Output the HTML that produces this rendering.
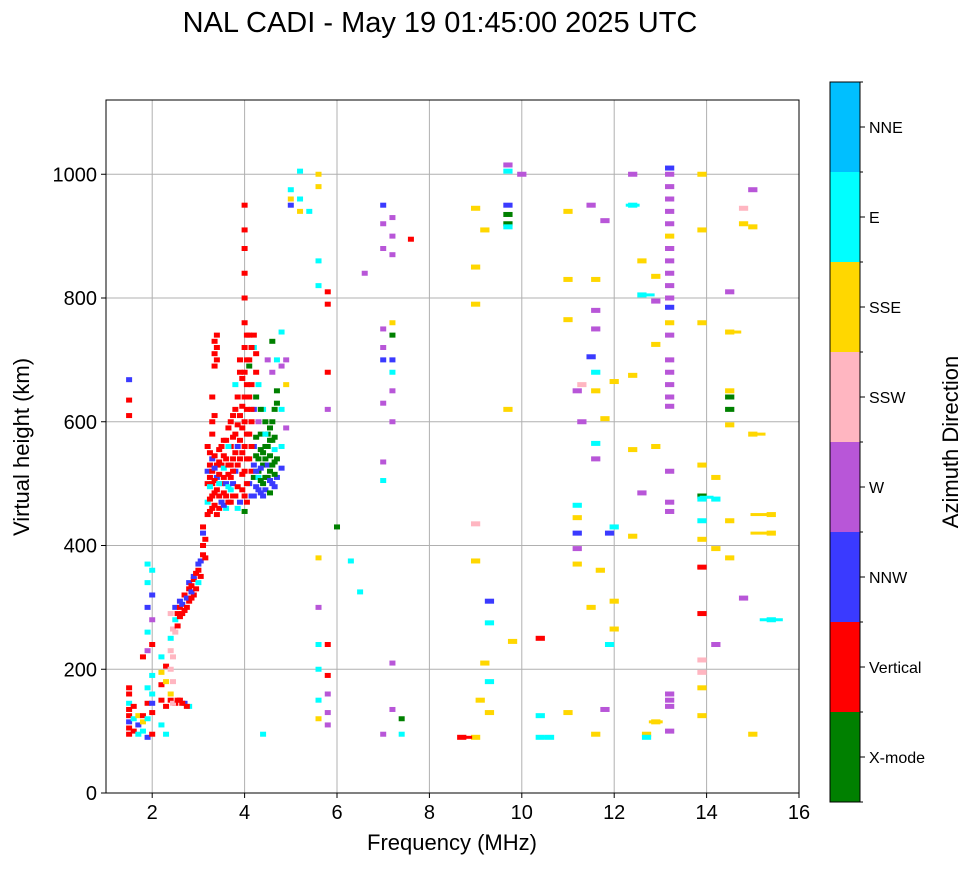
<!DOCTYPE html>
<html><head><meta charset="utf-8">
<style>
body{margin:0;background:#fff;}
svg text{font-family:"Liberation Sans",sans-serif;fill:#000;}
</style></head>
<body>
<svg id="chart" width="972" height="865" viewBox="0 0 972 865">
<text x="440" y="32" font-size="29" text-anchor="middle">NAL CADI - May 19 01:45:00 2025 UTC</text>
<g id="grid"></g>
<g id="marks"></g>
<rect x="106" y="100" width="693" height="693" fill="none" stroke="#000" stroke-width="1"/>
<g id="axes"></g>
<text x="452" y="850" font-size="22" text-anchor="middle">Frequency (MHz)</text>
<text transform="translate(29,447) rotate(-90)" font-size="22" text-anchor="middle">Virtual height (km)</text>
<g id="cbar"></g>
<text transform="translate(958,442) rotate(-90)" font-size="22" text-anchor="middle">Azimuth Direction</text>
</svg>
<script>
const dirNames = ["X-mode","Vertical","NNW","W","SSW","SSE","E","NNE"];
const dirColors = ["#008000","#ff0000","#3a3aff","#b856d8","#ffb6c1","#ffd700","#00ffff","#00bfff"];
const dirCodes = "grbpkycn";
const xTicks = [2,4,6,8,10,12,14,16];
const yTicks = [0,200,400,600,800,1000];
const freqs = [1.5,1.6,1.7,1.8,1.9,2.0,2.2,2.3,2.4,2.5,2.6,2.7,2.8,2.9,3.0,3.1,3.2,3.3,3.4,3.5,3.6,3.7,3.8,3.9,4.0,4.1,4.2,4.3,4.4,4.5,4.6,4.7,4.8,4.9,5.0,5.2,5.4,5.6,5.8,6.0,6.3,6.5,6.6,7.0,7.2,7.4,7.6,8.7,9.0,9.1,9.2,9.3,9.7,9.8,10.0,10.4,10.6,11.0,11.2,11.3,11.5,11.6,11.7,11.8,11.9,12.0,12.4,12.6,12.7,12.9,13.2,13.9,14.2,14.5,14.8,15.0,15.4,
3.25,3.35,3.45,3.55,3.65,3.75,3.85,3.95,4.05,4.15,4.25,4.35,4.45,4.55,4.65,2.45,2.55,2.65,2.75,2.85,2.95,3.05,3.15];
const heightsByFreq = [
[95,105,115,125,135,145,160,170,610,635,668],
[100,120,140],
[95,110,125],
[100,115,125,220],
[90,120,145,170,230,260,300,340,370],
[95,130,145,160,190,240,280,320,360],
[110,150,175,195,220],
[95,140,180,205],
[150,160,200,230,250,290],
[145,260,280,300],
[150,285,300,310],
[145,295,320],
[140,310,330,340],
[320,345,350],
[340,360,370],
[385,400,420,430],
[450,470,500,520,560],
[460,480,500,520,540,580,600,640],
[450,490,510,530,700,720,740],
[470,500,530,560],
[460,480,500,540,570],
[470,490,510,530,560,600],
[480,520,550,580,620,660],
[470,540,570,610,680,700],
[455,480,520,560,600,640,680,720,760,800,840,880,910,950],
[500,540,580,640,700,740,690],
[480,510,530,560,620,740,720],
[490,520,540,510,600,660],
[500,530,550,480,95,620],
[510,530,560,580,700],
[500,530,570,600,680,730],
[510,540,630,650,700],
[525,560,690,620,745],
[590,700,660],
[960,975,950],
[1005,940,960],
[940],
[1000,980,860,820,380,300,240,200,150,120],
[810,790,680,620,240,190,160,130,110],
[430],
[375],
[325],
[840],
[950,920,880,750,720,700,630,535,505,95],
[930,900,870,760,740,700,680,650,600,210,135],
[120,95],
[895],
[90],
[945,850,790,435,375,90],
[150],
[910,210],
[310,275,180,130],
[1015,1005,950,935,920,915,620],
[245],
[1000],
[250,125,90],
[90],
[940,830,765,130],
[650,465,445,420,395,370],
[600,660],
[950,705,300],
[830,780,750,680,650,565,540,95],
[360],
[925,605,135],
[420,240],
[665,310,265,430],
[1000,950,675,555,415],
[860,805,485],
[95,90],
[835,795,725,560,115],
[1010,1000,980,960,940,920,900,880,860,840,820,800,785,760,740,700,680,660,640,625,520,470,455,160,150,140,100],
[1000,910,760,530,480,475,440,410,365,290,215,195,170,125],
[510,475,395,240],
[810,745,650,640,620,595,440,380],
[945,920,315],
[975,915,580,95],
[450,420,280],
[455,475,495,510,530,550],
[465,485,505,525,545,610,690,710,730],
[460,480,500,515,535,555],
[465,485,510,525,545,570],
[470,495,515,530,560,590],
[480,500,520,540,575,610],
[460,495,530,560,595,640],
[490,515,550,590,625,670],
[470,500,540,580,620,660,700,740],
[480,520,560,600,620,660,720],
[495,520,545,575,640,680,710],
[485,505,525,555,580,620],
[490,510,540,560,580,600],
[485,505,520,545,570,590],
[495,515,535,555,575,620],
[145,180,220,265],
[150,270,290],
[145,290,305],
[140,300,315],
[315,325,335],
[330,355],
[350,375],
[380,410]
];
const dirsByFreq = [
"rrbrrcrrrrb","rcr","cby","cyrr","bcrcpcbcc","rrbccrpbc","crryc","cryr","rykkck","rkcb","rrrb","brr","crrb","rrb","crb","rrbr",
"rcrbr","rrrrbrrr","rrbrrrr","brrr","crbrr","rcrrrr","rbrrrc","brrrrr","grrrrrrrrrrrrr","brrrrrg","bgbbbrc","bggcpc","gggbcc","gbggp","bgggpg","bgggc","bcpcc",
"ppy","ycb","cyc","c","yyccypcccy","rrrprrppp","g","c","c","p","bppppbppcpp","pppygbcpppp","gc","r","r",
"yyykyy","y","yy","bccy","pcbggcy","y","p","rcc","c","yyyy","pcybpy","pk","pby","yppcycpy","y","pyp","bc","yyyc",
"pcyyy","ycp","yc","ypyyy","bpppppypppppbyppppppppppppp","yyyygccyrrkkyy","ycyp","pyyggyyy","kyp","pyyy","yyc",
"rrcrrr","rrrbrrrrr","rrcrrr","brrcrr","rcrrcr","rbrrrr","crrbrr","rrrrrr","rrrrrrrr","brrrrrr","bbgggrr","bgbggg","bgggcg","gbgggg","bggcgg","kkkk","rrr","rrb","rrb","rbr","rr","rb","rr"
];
// long dashes at higher frequencies [freq, height, span, dir]
const longFreq = [15.2,15.2,15.4,15.1,14.6,13.9,12.7,12.4,8.8,10.5,12.9,14.0];
const longHeight = [450,420,280,580,745,365,805,950,90,90,115,478];
const longSpan = [0.5,0.5,0.5,0.35,0.3,0.2,0.35,0.3,0.25,0.35,0.3,0.3];
const longDir = [5,5,6,5,5,1,6,6,1,6,5,6];

const NS="http://www.w3.org/2000/svg";
const X0=106,X1=799,Y0=793,Y1=100,FMIN=1,FMAX=16,HMIN=0,HMAX=1120;
function xs(f){return X0+(f-FMIN)/(FMAX-FMIN)*(X1-X0);}
function ys(h){return Y0-(h-HMIN)/(HMAX-HMIN)*(Y0-Y1);}
function mk(tag,attrs,parent){const e=document.createElementNS(NS,tag);for(const k in attrs)e.setAttribute(k,attrs[k]);parent.appendChild(e);return e;}
const grid=document.getElementById('grid'),axes=document.getElementById('axes'),marks=document.getElementById('marks'),cbar=document.getElementById('cbar');
xTicks.forEach(t=>{
  const x=xs(t);
  if(t<FMAX){const l=mk('line',{x1:x,x2:x,y1:Y1,y2:Y0,stroke:'#b0b0b0','stroke-width':1},grid);
  
  }
  mk('line',{x1:x,x2:x,y1:Y0,y2:Y0+5,stroke:'#000'},axes);
  const tx=mk('text',{x:x,y:Y0+26,'font-size':20,'text-anchor':'middle'},axes);tx.textContent=t;
  
  
});
yTicks.forEach(t=>{
  const y=ys(t);
  const l=mk('line',{x1:X0,x2:X1,y1:y,y2:y,stroke:'#b0b0b0','stroke-width':1},grid);
  
  
  mk('line',{x1:X0-5,x2:X0,y1:y,y2:y,stroke:'#000'},axes);
  const tx=mk('text',{x:X0-9,y:y+7,'font-size':20,'text-anchor':'end'},axes);tx.textContent=t;
  
  
});
const W=(X1-X0)/(FMAX-FMIN);
freqs.forEach((f,i)=>{
  const hs=heightsByFreq[i],ds=dirsByFreq[i];
  const span=f<8?0.13:0.2;
  hs.forEach((h,j)=>{
    const d=dirCodes.indexOf(ds[j]||'r');
    const r=mk('rect',{x:xs(f)-span*W/2,y:ys(h)-2.5,width:span*W,height:5,fill:dirColors[d<0?1:d]},marks);
    
    
  });
});
longFreq.forEach((f,i)=>{
  const r=mk('rect',{x:xs(f)-longSpan[i]*W/2,y:ys(longHeight[i])-1.5,width:longSpan[i]*W,height:3,fill:dirColors[longDir[i]]},marks);
  
  
});
// colorbar
const CBX=830,CBW=30,CBT=82,CBB=802,bh=(CBB-CBT)/dirNames.length;
dirNames.forEach((n,i)=>{
  const y=CBB-(i+1)*bh;
  const r=mk('rect',{x:CBX,y:y,width:CBW,height:bh,fill:dirColors[i]},cbar);
  
  
  mk('line',{x1:CBX+CBW,x2:CBX+CBW+5,y1:y+bh/2,y2:y+bh/2,stroke:'#000'},cbar);
  const tx=mk('text',{x:CBX+CBW+9,y:y+bh/2+6,'font-size':16},cbar);tx.textContent=n;
  
  
});
for(let i=0;i<=dirNames.length;i++){const y=CBB-i*bh;mk('line',{x1:CBX+CBW,x2:CBX+CBW+3,y1:y,y2:y,stroke:'#000'},cbar);}
mk('rect',{x:CBX,y:CBT,width:CBW,height:CBB-CBT,fill:'none',stroke:'#000'},cbar);
</script>
</body></html>
